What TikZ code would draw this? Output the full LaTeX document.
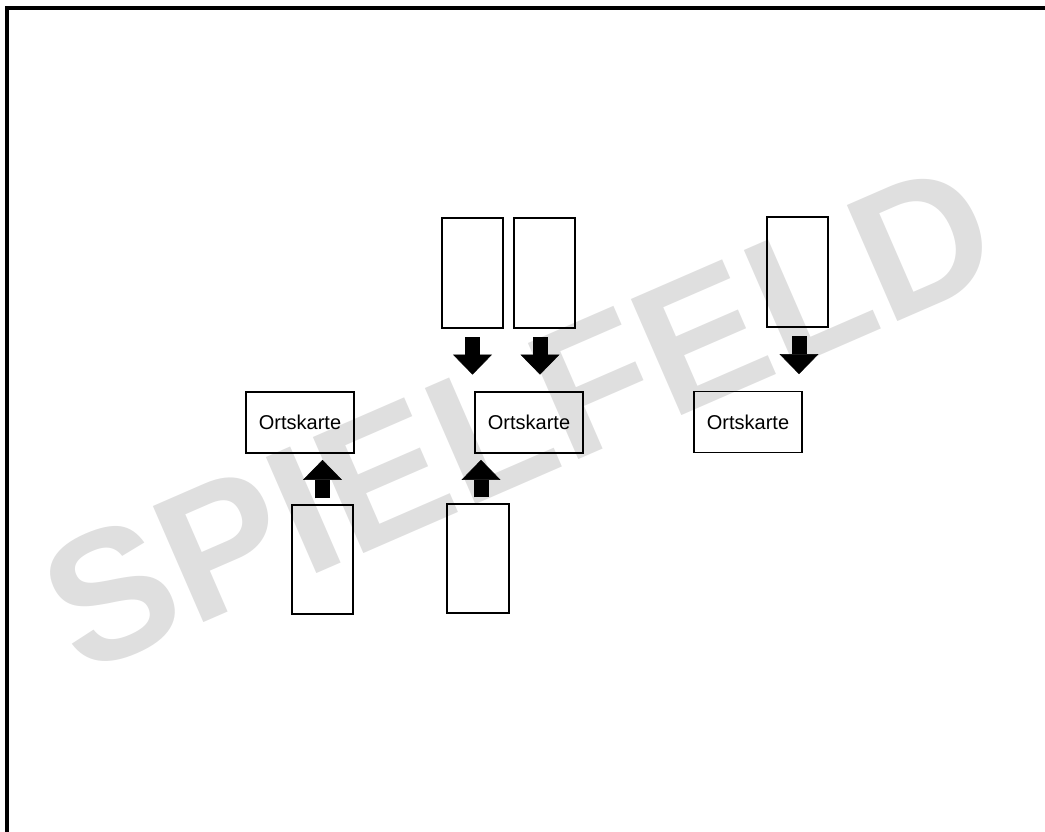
\documentclass[tikz,border=0pt]{standalone}
\usepackage{fontspec}
\setmainfont{Liberation Sans}
\usetikzlibrary{arrows.meta}
\definecolor{wmgray}{RGB}{223,223,223}
\begin{document}
\begin{tikzpicture}[x=1pt,y=-1pt,
  card/.style={draw, line width=1.8pt, minimum width=61.5pt, minimum height=109.5pt, inner sep=0pt},
  ort/.style={draw, line width=1.8pt, minimum width=108.5pt, minimum height=61pt, inner sep=0pt, font=\fontsize{20}{24}\selectfont},
  blockarrow/.style={line width=15pt, -{Triangle[width=39pt,length=20pt,line width=0.5pt]}},
  downarrow/.style={blockarrow, shorten <=8.5pt, shorten >=16.5pt},
  uparrow/.style={blockarrow, shorten <=5.5pt, shorten >=6pt}
]
\useasboundingbox (0,0) rectangle (1045,832);
% watermark
\node[rotate=23.5, text=wmgray, font=\fontsize{184}{184}\selectfont\bfseries, inner sep=0pt] (wm) at (519,417) {SPIELFELD};
% frame
\draw[line width=4pt] (7,840) -- (7,8) -- (1050,8);
% Ortskarten
\node[ort] (o1) at (300,422.5) {Ortskarte};
\node[ort] (o2) at (529,422.5) {Ortskarte};
\node[ort] (o3) at (748,422) {Ortskarte};
% cards
\node[card] (cl) at (322.5,559.5) {};
\node[card] (m1) at (472.5,273) {};
\node[card] (m2) at (544.5,273) {};
\node[card] (m3) at (478,558.5) {};
\node[card] (r1) at (797.5,272) {};
% arrows
\draw[downarrow] (m1.south) -- (m1.south |- o2.north);
\draw[downarrow] ([xshift=-4.5pt]m2.south) -- ([xshift=-4.5pt]m2.south |- o2.north);
\draw[downarrow] ([xshift=1.5pt]r1.south) -- ([xshift=1.5pt]r1.south |- o3.north);
\draw[uparrow] (cl.north) -- (cl.north |- o1.south);
\draw[uparrow] ([xshift=3pt]m3.north) -- ([xshift=3pt]m3.north |- o2.south);
\end{tikzpicture}
\end{document}
